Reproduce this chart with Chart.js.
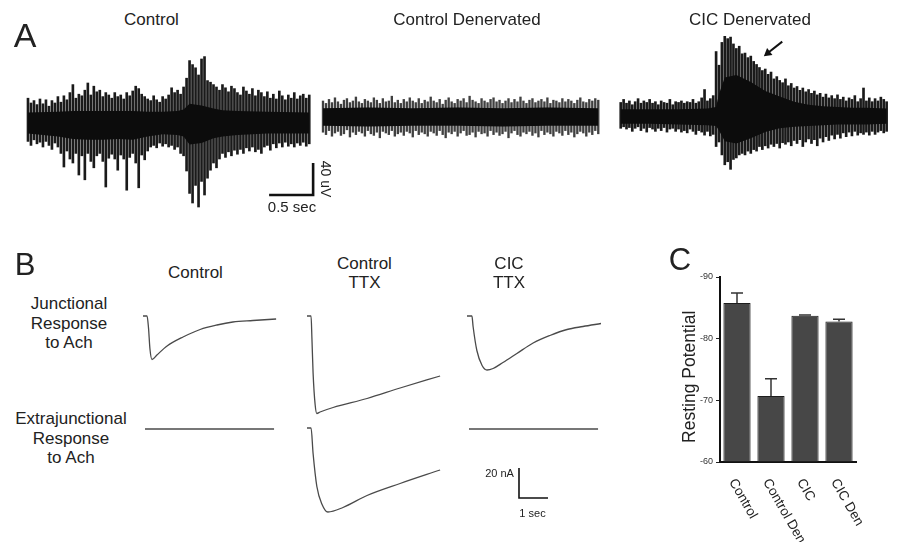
<!DOCTYPE html>
<html>
<head>
<meta charset="utf-8">
<script src="https://cdn.jsdelivr.net/npm/chart.js@4.4.1/dist/chart.umd.min.js"></script>
<style>
  html, body { margin:0; padding:0; background:#fff; }
  #fig { position:relative; width:902px; height:542px; overflow:hidden; background:#fff;
         font-family:"Liberation Sans", Arial, Helvetica, sans-serif; color:#222; }
  #fig canvas { position:absolute; }
  .t { position:absolute; white-space:nowrap; transform:translate(-50%,-50%); text-align:center; z-index:5; }
</style>
</head>
<body>
<div id="fig"></div>
<script>
// ---------------- DATA ----------------
// Panel A: EMG envelope readings (uV), one reading every A_BAR_DT seconds
const A_BAR_DT = 0.034;
const ctrlTop = [31,25,28,23,30,24,29,21,28,25,
  33,26,34,29,38,48,31,36,34,41,
  50,35,46,39,41,33,38,35,31,38,
  33,35,30,38,34,40,46,43,36,33,
  30,28,34,29,26,33,30,35,44,38,
  41,36,45,56,78,73,69,60,80,83,
  53,51,48,45,41,48,44,39,46,43,
  38,35,45,40,36,43,34,41,38,33,
  39,31,36,30,40,34,29,35,31,38,
  30,34,36,31,35];
const ctrlBot = [-23,-28,-21,-26,-24,-30,-23,-28,-33,-25,
  -30,-38,-55,-35,-45,-50,-38,-65,-41,-71,
  -38,-48,-56,-41,-38,-48,-80,-44,-39,-45,
  -59,-40,-45,-84,-43,-38,-50,-81,-40,-46,
  -35,-30,-28,-31,-25,-29,-26,-30,-28,-33,
  -30,-38,-41,-60,-88,-100,-78,-105,-73,-90,
  -69,-59,-50,-56,-45,-38,-43,-36,-41,-34,
  -39,-33,-38,-31,-35,-30,-36,-33,-38,-30,
  -28,-34,-26,-31,-25,-30,-24,-29,-26,-30,
  -25,-28,-24,-29,-26];
const ctrlCoreIdx = [0,10,15,20,25,30,35,40,45,50,52,54,58,62,65,70,80,94];
const ctrlCoreHi  = [13,14,15,15,15,15,15,14,14,15,17,24,22,18,16,15,14,13];
const ctrlCoreLo  = [-13,-17,-20,-21,-21,-20,-21,-17,-14,-15,-17,-27,-25,-19,-17,-15,-13,-13];

const denTop = [20,17,22,18,24,19,16,21,23,18,
  20,25,19,17,22,20,18,24,21,17,
  23,19,20,26,18,21,17,22,19,24,
  20,18,23,17,21,19,25,20,18,22,
  16,21,24,19,17,22,20,23,18,26,
  21,19,17,23,20,18,22,24,19,21,
  17,20,23,18,22,19,25,20,17,21,
  23,18,20,22,19,24,17,21,20,18,
  23,19,22,20,17,21,24,19,18,22,
  20,23,21];
const denBot = [-19,-22,-17,-24,-20,-18,-23,-21,-16,-25,
  -19,-22,-18,-20,-24,-17,-21,-23,-19,-26,
  -18,-20,-22,-17,-24,-21,-19,-23,-18,-20,
  -25,-17,-22,-19,-21,-24,-18,-20,-23,-17,
  -22,-26,-19,-21,-18,-24,-20,-17,-23,-22,
  -19,-25,-18,-21,-20,-24,-17,-22,-19,-23,
  -21,-18,-26,-20,-17,-22,-24,-19,-21,-18,
  -23,-20,-25,-17,-22,-19,-21,-24,-18,-20,
  -23,-17,-22,-19,-25,-21,-18,-20,-24,-19,
  -22,-17,-21];
const denCoreIdx = [0,15,30,45,60,75,92];
const denCoreHi  = [11,12,11,12,11,12,11];
const denCoreLo  = [-11,-12,-11,-11,-12,-11,-11];

const cicTop = [19,23,18,21,16,20,24,18,21,19,
  23,18,20,16,21,19,18,23,16,20,
  19,21,18,20,19,23,18,20,25,36,
  21,24,28,86,68,98,106,103,105,96,
  90,93,83,84,78,80,73,69,65,61,
  63,56,59,50,53,48,45,50,41,44,
  38,40,35,38,33,36,31,34,29,31,
  26,30,25,28,24,29,23,26,21,25,
  23,28,20,24,38,21,25,20,24,21,
  26,23,20];
const cicBot = [-15,-13,-16,-14,-19,-15,-13,-18,-15,-20,
  -14,-16,-19,-15,-18,-14,-20,-16,-15,-19,
  -16,-20,-18,-21,-16,-19,-23,-18,-20,-24,
  -19,-25,-23,-39,-33,-50,-63,-59,-69,-56,
  -54,-50,-48,-50,-45,-48,-43,-45,-39,-43,
  -38,-41,-36,-39,-35,-41,-34,-36,-33,-38,
  -31,-35,-30,-39,-33,-29,-35,-30,-38,-28,
  -33,-26,-31,-24,-29,-23,-28,-21,-26,-20,
  -25,-19,-24,-21,-23,-20,-24,-19,-23,-20,
  -18,-21,-19];
const cicCoreIdx = [0,10,20,30,33,34,36,40,45,50,55,60,65,70,75,80,85,92];
const cicCoreHi  = [10,10,10,11,13,30,52,55,46,34,27,20,16,14,13,12,12,11];
const cicCoreLo  = [-9,-9,-10,-11,-12,-18,-32,-35,-28,-20,-15,-13,-12,-11,-10,-10,-10,-9];

const scaleBarA = { t: 2.74, v: -90, dt: 0.5, dv: 40 };      // 0.5 sec, 40 uV
const arrowCIC  = { from: { t: 1.90, v: 99 }, to: { t: 1.73, v: 84 } };

// Panel B: currents (nA) vs time (s)
const ctrlJuncT  = [0, 0.14, 0.19, 0.24, 0.31, 0.48, 0.83, 1.38, 1.97, 2.55, 3.10, 3.79, 4.59];
const ctrlJuncI  = [0, 0, -8, -22, -29, -26, -20, -14, -9, -6, -4, -3, -2];
const ctrlExtraT = [0, 4.45];
const ctrlExtraI = [0, 0];
const ttxJuncT   = [0, 0.14, 0.17, 0.21, 0.28, 0.34, 0.45, 0.90, 2.07, 3.21, 4.59];
const ttxJuncI   = [0, 0, -15, -38, -59, -65, -64, -61, -55, -48, -40];
const ttxExtraT  = [0, 0.14, 0.21, 0.34, 0.52, 0.72, 1.24, 2.07, 3.21, 4.59];
const ttxExtraI  = [0, 0, -17, -39, -51, -56, -53, -45, -37, -28];
const cicJuncT   = [0, 0.17, 0.21, 0.34, 0.52, 0.69, 0.90, 1.24, 1.72, 2.28, 2.86, 3.45, 4.00, 4.62];
const cicJuncI   = [0, 0, -7, -23, -33, -36, -35, -31, -25, -18, -13, -9, -7, -5];
const cicExtraT  = [0, 4.45];
const cicExtraI  = [0, 0];
const scaleBarB  = { t: 1.724, v: -46, dt: 1, dv: 20 };     // 1 sec, 20 nA

// Panel C
const cCats  = ['Control', 'Control Den', 'CIC', 'CIC Den'];
const cVals  = [-85.8, -70.7, -83.7, -82.8];
const cErr   = [1.6, 2.8, 0.15, 0.35];
const cTicks = [-90, -80, -70, -60];

// ---------------- RENDER ----------------
const FONT = '"Liberation Sans", Arial, Helvetica, sans-serif';
Chart.defaults.font.family = FONT;
const fig = document.getElementById('fig');

function frame(rect, origin, pxX, pxY) {
  const xmin = -(origin.x - rect.left) / pxX;
  const ymax = (origin.y - rect.top) / pxY;
  return { xmin, xmax: xmin + rect.w / pxX, ymin: ymax - rect.h / pxY, ymax };
}
function addCanvas(rect) {
  const c = document.createElement('canvas');
  c.width = rect.w; c.height = rect.h;
  c.style.left = rect.left + 'px'; c.style.top = rect.top + 'px';
  fig.appendChild(c);
  return c;
}
function traceChart(rect, origin, pxX, pxY, datasets) {
  const f = frame(rect, origin, pxX, pxY);
  return new Chart(addCanvas(rect), {
    type: 'line',
    data: { datasets },
    options: {
      responsive: false, animation: false, events: [],
      layout: { padding: 0 },
      plugins: { legend: { display: false }, tooltip: { enabled: false } },
      scales: {
        x: { type: 'linear', display: false, min: f.xmin, max: f.xmax, offset: false },
        y: { type: 'linear', display: false, min: f.ymin, max: f.ymax }
      }
    }
  });
}
function spikes(top, bot, thick, color) {
  return { type: 'bar', data: top.map((v, i) => ({ x: i * A_BAR_DT, y: [bot[i], v] })),
           backgroundColor: color, borderWidth: 0, barThickness: thick, order: 2 };
}
function core(idx, hi, lo) {
  const mk = (vals) => idx.map((k, j) => ({ x: k * A_BAR_DT, y: vals[j] }));
  return [
    { type: 'line', data: mk(hi), borderWidth: 0, pointRadius: 0, fill: '+1',
      backgroundColor: '#0c0c0c', tension: 0, order: 1 },
    { type: 'line', data: mk(lo), borderWidth: 0, pointRadius: 0, fill: false, tension: 0, order: 1 }
  ];
}
function curve(T, I) {
  return { type: 'line', data: T.map((t, i) => ({ x: t, y: I[i] })), borderColor: '#4a4a4a',
           borderWidth: 1.3, pointRadius: 0, fill: false, cubicInterpolationMode: 'monotone' };
}
function scaleBar(sb, vertFirst, width) {
  const pts = vertFirst
    ? [{ x: sb.t, y: sb.v + sb.dv }, { x: sb.t, y: sb.v }, { x: sb.t + sb.dt, y: sb.v }]
    : [{ x: sb.t, y: sb.v }, { x: sb.t + sb.dt, y: sb.v }, { x: sb.t + sb.dt, y: sb.v + sb.dv }];
  return { type: 'line', data: pts, borderColor: '#111', borderWidth: width, pointRadius: 0,
           fill: false, tension: 0, borderJoinStyle: 'miter', borderCapStyle: 'butt' };
}

// Panel A (88 px per second, 0.8 px per uV)
const PX_S_A = 88, PX_UV = 0.8;
traceChart({ left: 20, top: 40, w: 330, h: 180 }, { x: 28, y: 123 }, PX_S_A, PX_UV,
  [spikes(ctrlTop, ctrlBot, 2.0, '#1a1a1a'), ...core(ctrlCoreIdx, ctrlCoreHi, ctrlCoreLo), scaleBar(scaleBarA, false, 2.6)]);
traceChart({ left: 315, top: 40, w: 295, h: 180 }, { x: 323, y: 117 }, PX_S_A, PX_UV,
  [spikes(denTop, denBot, 1.7, 'rgba(30,30,30,0.85)'), ...core(denCoreIdx, denCoreHi, denCoreLo)]);
traceChart({ left: 608, top: 15, w: 294, h: 200 }, { x: 616, y: 117 }, PX_S_A, PX_UV,
  [spikes(cicTop, cicBot, 2.0, '#1a1a1a'), ...core(cicCoreIdx, cicCoreHi, cicCoreLo),
   { type: 'line', data: [{ x: arrowCIC.from.t, y: arrowCIC.from.v }, { x: arrowCIC.to.t, y: arrowCIC.to.v }],
     borderColor: '#111', borderWidth: 2, pointRadius: [0, 5], pointStyle: 'triangle',
     pointRotation: [0, 232], pointBackgroundColor: '#111', pointBorderWidth: 0, fill: false }]);

// Panel B (29 px per second, 1.5 px per nA)
const PX_S_B = 29, PX_NA = 1.5;
traceChart({ left: 135, top: 300, w: 150, h: 70 },  { x: 143, y: 316 }, PX_S_B, PX_NA, [curve(ctrlJuncT, ctrlJuncI)]);
traceChart({ left: 135, top: 415, w: 150, h: 30 },  { x: 145, y: 429 }, PX_S_B, PX_NA, [curve(ctrlExtraT, ctrlExtraI)]);
traceChart({ left: 298, top: 300, w: 150, h: 125 }, { x: 307, y: 316 }, PX_S_B, PX_NA, [curve(ttxJuncT, ttxJuncI)]);
traceChart({ left: 298, top: 415, w: 150, h: 110 }, { x: 307, y: 428 }, PX_S_B, PX_NA, [curve(ttxExtraT, ttxExtraI)]);
traceChart({ left: 458, top: 300, w: 150, h: 80 },  { x: 467, y: 316 }, PX_S_B, PX_NA, [curve(cicJuncT, cicJuncI)]);
traceChart({ left: 460, top: 415, w: 150, h: 110 }, { x: 469, y: 429 }, PX_S_B, PX_NA,
  [curve(cicExtraT, cicExtraI), scaleBar(scaleBarB, true, 1.6)]);

// Panel C
const errPlugin = {
  id: 'errbars',
  afterDatasetsDraw(chart) {
    const meta = chart.getDatasetMeta(0), ys = chart.scales.y, ctx = chart.ctx;
    ctx.save(); ctx.strokeStyle = '#333'; ctx.lineWidth = 1.5;
    meta.data.forEach((bar, i) => {
      const y0 = ys.getPixelForValue(cVals[i]);
      const y1 = ys.getPixelForValue(cVals[i] - cErr[i]);
      ctx.beginPath();
      ctx.moveTo(bar.x, y0); ctx.lineTo(bar.x, y1);
      ctx.moveTo(bar.x - 6, y1); ctx.lineTo(bar.x + 6, y1);
      ctx.stroke();
    });
    ctx.restore();
  }
};
const xLabelPlugin = {
  id: 'slantLabels',
  afterDraw(chart) {
    const xs = chart.scales.x, ctx = chart.ctx;
    ctx.save();
    ctx.font = '13.5px ' + FONT; ctx.fillStyle = '#222';
    ctx.textAlign = 'left'; ctx.textBaseline = 'middle';
    cCats.forEach((lab, i) => {
      const x = xs.getPixelForTick(i);
      ctx.save(); ctx.translate(x - 5, xs.top + 18); ctx.rotate(60 * Math.PI / 180);
      ctx.fillText(lab, 0, 0); ctx.restore();
    });
    ctx.restore();
  }
};
new Chart(addCanvas({ left: 660, top: 262, w: 220, h: 280 }), {
  type: 'bar',
  data: { labels: cCats, datasets: [{ data: cVals, base: -60, backgroundColor: '#474747',
    borderColor: '#1e1e1e', borderWidth: 1, barPercentage: 0.8, categoryPercentage: 1 }] },
  options: {
    responsive: false, animation: false, events: [],
    layout: { padding: { top: 15, right: 24, left: 0, bottom: 0 } },
    plugins: { legend: { display: false }, tooltip: { enabled: false } },
    scales: {
      x: { ticks: { display: false }, grid: { display: false },
           border: { display: true, color: '#111', width: 2 },
           afterFit(s) { s.height = 80; } },
      y: { min: -90, max: -60, reverse: true,
           afterBuildTicks(s) { s.ticks = cTicks.map(v => ({ value: v })); },
           ticks: { font: { size: 9 }, color: '#333', padding: 3 },
           grid: { display: true, drawOnChartArea: false, drawTicks: true, tickLength: 4, color: '#222' },
           border: { display: true, color: '#111', width: 2 },
           title: { display: true, text: 'Resting Potential\u00a0\u00a0\u00a0', color: '#222',
                    font: { size: 17.5 }, padding: { top: 19.5, bottom: 0 } },
           afterFit(s) { s.width = 60; } }
    }
  },
  plugins: [errPlugin, xLabelPlugin]
});

// ---------------- TEXT ----------------
function label(html, cx, cy, size, extra) {
  const d = document.createElement('div');
  d.className = 't'; d.innerHTML = html;
  d.style.left = cx + 'px'; d.style.top = cy + 'px'; d.style.fontSize = size + 'px';
  if (extra) Object.assign(d.style, extra);
  fig.appendChild(d);
}
label('A', 25, 34.5, 34, { lineHeight: '34px' });
label('B', 25, 264, 31, { lineHeight: '31px' });
label('C', 680, 259, 31, { lineHeight: '31px' });
label('Control', 151.5, 20, 17, { lineHeight: '20px' });
label('Control Denervated', 467, 20, 17, { lineHeight: '20px' });
label('CIC Denervated', 750, 20, 17, { lineHeight: '20px' });
label('0.5 sec', 292, 207, 15, { lineHeight: '16px' });
label('40 uV', 325, 179, 14, { lineHeight: '15px', transform: 'translate(-50%,-50%) rotate(90deg)' });
label('Control', 195.5, 271.5, 17, { lineHeight: '19px' });
label('Control<br>TTX', 364.5, 272.5, 17, { lineHeight: '19px' });
label('CIC<br>TTX', 509, 272.5, 17, { lineHeight: '19px' });
label('Junctional<br>Response<br>to Ach', 69, 323, 17, { lineHeight: '19.5px' });
label('Extrajunctional<br>Response<br>to Ach', 71, 438, 17, { lineHeight: '19.5px' });
label('20 nA', 499.5, 472.5, 11, { lineHeight: '12px' });
label('1 sec', 532.5, 512.5, 11, { lineHeight: '12px' });
</script>
</body>
</html>
